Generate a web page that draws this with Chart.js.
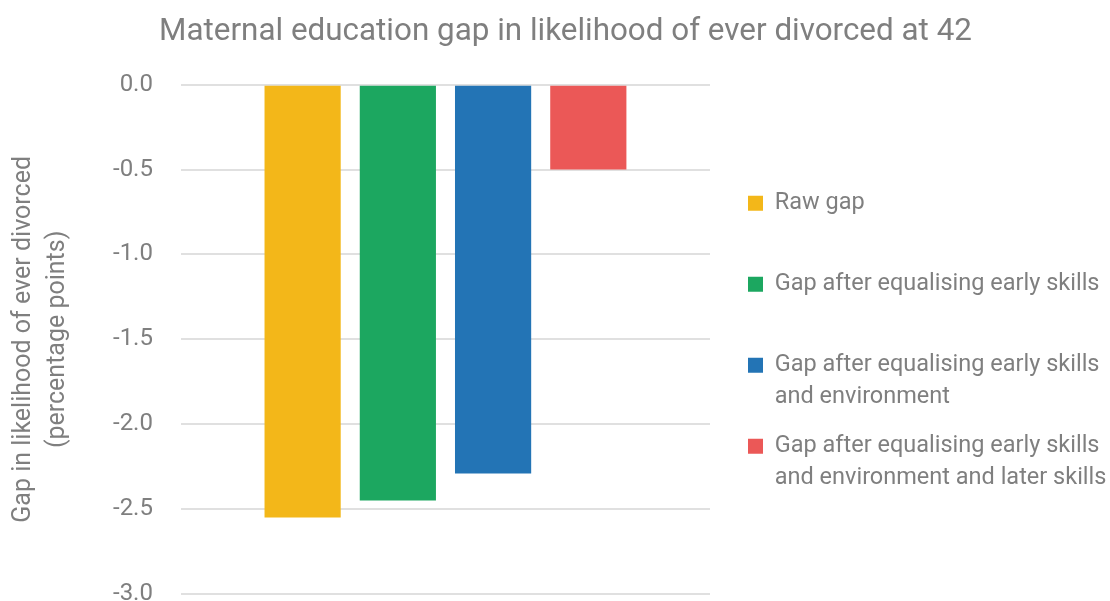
<!DOCTYPE html>
<html>
<head>
<meta charset="utf-8">
<title>Maternal education gap in likelihood of ever divorced at 42</title>
<script src="https://cdn.jsdelivr.net/npm/chart.js@4.4.1/dist/chart.umd.min.js"></script>
<style>
  html, body { margin: 0; padding: 0; background: #fff; }
  #wrap { width: 1110px; height: 601px; }
</style>
</head>
<body>
<div id="wrap"><canvas id="gapChart"></canvas></div>
<script>
// Data
const seriesLabels = [
  ['Raw gap', ''],
  ['Gap after equalising early skills', ''],
  ['Gap after equalising early skills', 'and environment'],
  ['Gap after equalising early skills', 'and environment and later skills']
];
const gapValues = [-2.55, -2.45, -2.29, -0.5];
const barColors = ['#F3B719', '#1CA760', '#2374B5', '#EB5857'];
const yMin = -3, yMax = 0, yStep = 0.5;

const TEXT = '#7f7f7f';
const FONT = 'Roboto, "Noto Sans", sans-serif';

// legend gets a fixed width (the default caps it at a quarter of the canvas),
// then legend and title are nudged into place after layout
const boxTweaks = {
  id: 'boxTweaks',
  beforeLayout(chart, args, opts) {
    const lg = chart.legend;
    if (lg && !lg._fixedFit) {
      const fit = lg.fit;
      lg.fit = function () {
        fit.call(this);
        this.width = opts.legendWidth;
      };
      lg._fixedFit = true;
    }
  },
  afterLayout(chart, args, opts) {
    const lg = chart.legend;
    if (lg) {
      lg.left += opts.legendDx; lg.right += opts.legendDx;
      lg.top += opts.legendDy; lg.bottom += opts.legendDy;
    }
    const tb = chart.titleBlock;
    if (tb) { tb.left += opts.titleDx; tb.right += opts.titleDx; }
  }
};

const datasets = gapValues.map((v, i) => ({
  label: seriesLabels[i].join(' ').trim(),
  data: [v],
  backgroundColor: barColors[i],
  borderWidth: 0,
  barPercentage: 0.8,
  categoryPercentage: 0.72
}));

new Chart(document.getElementById('gapChart').getContext('2d'), {
  type: 'bar',
  data: { labels: [''], datasets },
  plugins: [boxTweaks],
  options: {
    responsive: true,
    maintainAspectRatio: false,
    animation: false,
    layout: { padding: { left: 7, right: 0, top: 0, bottom: 7 } },
    plugins: {
      boxTweaks: { legendWidth: 400, legendDx: 21, legendDy: 48, titleDx: 7 },
      tooltip: { enabled: false },
      title: {
        display: true,
        text: 'Maternal education gap in likelihood of ever divorced at 42',
        color: TEXT,
        font: { family: FONT, size: 31.4, weight: 'normal', lineHeight: 1.2 },
        padding: { top: 13, bottom: 34 }
      },
      legend: {
        position: 'right',
        align: 'center',
        labels: {
          color: TEXT,
          font: { family: FONT, size: 23.5, lineHeight: 32 / 23.5 },
          boxWidth: 15,
          boxHeight: 15,
          padding: 17,
          generateLabels: (chart) => chart.data.datasets.map((ds, i) => ({
            text: seriesLabels[i],
            fillStyle: ds.backgroundColor,
            strokeStyle: ds.backgroundColor,
            lineWidth: 0,
            fontColor: TEXT,
            datasetIndex: i
          }))
        }
      }
    },
    scales: {
      x: { display: false, grid: { display: false } },
      y: {
        min: yMin,
        max: yMax,
        border: { display: false },
        grid: { color: '#e0e0e0', lineWidth: 2, drawTicks: false },
        ticks: {
          stepSize: yStep,
          color: TEXT,
          padding: 28,
          font: { family: FONT, size: 24 },
          callback: (v) => Number(v).toFixed(1)
        },
        title: {
          display: true,
          text: ['Gap in likelihood of ever divorced', '(percentage points)'],
          color: TEXT,
          font: { family: FONT, size: 25, lineHeight: 34 / 25 },
          padding: { top: 0, bottom: 10 }
        },
        afterFit(scale) {
          // let the end labels hang over the plot edges
          scale.paddingTop = 0;
          scale.paddingBottom = 0;
        }
      }
    }
  }
});
</script>
</body>
</html>
